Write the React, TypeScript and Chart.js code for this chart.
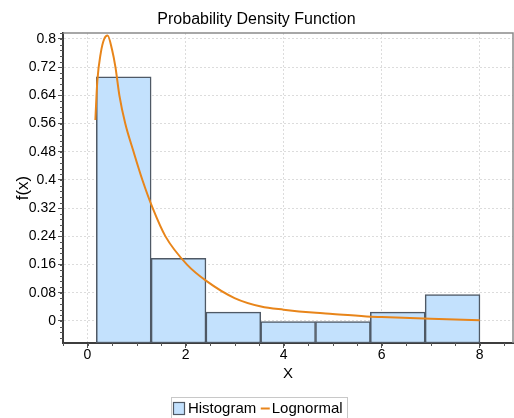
import React, { useEffect, useRef } from "react";
import { Chart, registerables } from "chart.js";

Chart.register(...registerables);

const TITLE = "Probability Density Function";
const X_TITLE = "X";
const Y_TITLE = "f(x)";
const LEGEND_HIST = "Histogram";
const LEGEND_LOGN = "Lognormal";

const BIN_EDGES = [0.18, 1.298, 2.416, 3.534, 4.652, 5.77, 6.888, 8.006];
const HIST_DENSITY = [0.693, 0.178, 0.025, 0, 0, 0.025, 0.075];

const LOGN_X = [0.16, 0.2, 0.27, 0.34, 0.41, 0.5, 0.57, 0.65, 0.77, 0.94, 1.12, 1.33, 1.59, 2.03, 2.43, 3.0, 3.54, 4.0, 4.66, 5.0, 5.78, 6.0, 7.0, 8.0];
const LOGN_Y = [0.57, 0.68, 0.76, 0.8, 0.81, 0.77, 0.72, 0.64, 0.56, 0.48, 0.4, 0.32, 0.24, 0.16, 0.113, 0.065, 0.041, 0.032, 0.023, 0.02, 0.012, 0.011, 0.006, 0.002];

const X_TICKS = [0, 2, 4, 6, 8];
const Y_TICKS = [0, 0.08, 0.16, 0.24, 0.32, 0.4, 0.48, 0.56, 0.64, 0.72, 0.8];
const X_MIN = -0.5;
const X_MAX = 8.68;
const Y_MIN = -0.0625;
const Y_MAX = 0.817;

const FONT = "'Liberation Sans', Arial, sans-serif";
const BAR_FILL = "#c3e1fd";
const BAR_BORDER = "#4f5965";
const LINE_COLOR = "#e8851a";
const TEXT_COLOR = "#000000";

const framePlugin = {
  id: "frameAndMinor",
  afterDraw(chart: any) {
    const { ctx, chartArea } = chart;
    const xs = chart.scales.x;
    const ys = chart.scales.y;
    ctx.save();
    ctx.strokeStyle = "#8a8a8a";
    ctx.lineWidth = 1.5;
    ctx.beginPath();
    ctx.moveTo(chartArea.left, chartArea.top);
    ctx.lineTo(chartArea.right, chartArea.top);
    ctx.lineTo(chartArea.right, chartArea.bottom);
    ctx.stroke();
    ctx.strokeStyle = "#555";
    ctx.lineWidth = 1;
    ctx.beginPath();
    for (let i = -3; i <= 51; i++) {
      const yv = i * 0.016;
      if (yv < Y_MIN || yv > Y_MAX) continue;
      const py = Math.round(ys.getPixelForValue(yv)) + 0.5;
      ctx.moveTo(chartArea.left - 3, py);
      ctx.lineTo(chartArea.left, py);
    }
    for (let i = -1; i <= 17; i++) {
      const v = i * 0.5;
      if (v < X_MIN || v > X_MAX) continue;
      const px = Math.round(xs.getPixelForValue(v)) + 0.5;
      ctx.moveTo(px, chartArea.bottom);
      ctx.lineTo(px, chartArea.bottom + 3);
    }
    ctx.stroke();
    ctx.restore();
  },
};

const legendPlugin = {
  id: "customLegend",
  afterDraw(chart: any) {
    const { ctx, height } = chart;
    ctx.save();
    ctx.font = `15px ${FONT}`;
    const w1 = ctx.measureText(LEGEND_HIST).width;
    const w2 = ctx.measureText(LEGEND_LOGN).width;
    const boxW = 11;
    const lineW = 9;
    const padL = 2;
    const padR = 5;
    const gap1 = 3.4;
    const gap2 = 4.5;
    const gap3 = 2;
    const content = boxW + gap1 + w1 + gap2 + lineW + gap3 + w2;
    const frameW = content + padL + padR;
    const frameCx = 258.7;
    const frameLeft = Math.round(frameCx - frameW / 2) + 0.5;
    const cy = height - 9.5;
    ctx.strokeStyle = "#c8c8c8";
    ctx.lineWidth = 1;
    ctx.strokeRect(frameLeft, cy - 11, Math.round(frameW), 24);
    let x = frameLeft + padL;
    ctx.fillStyle = BAR_FILL;
    ctx.fillRect(x, cy - 6, boxW, 12);
    ctx.strokeStyle = BAR_BORDER;
    ctx.lineWidth = 1.2;
    ctx.strokeRect(x, cy - 6, boxW, 12);
    x += boxW + gap1;
    ctx.fillStyle = TEXT_COLOR;
    ctx.textBaseline = "middle";
    ctx.textAlign = "left";
    ctx.fillText(LEGEND_HIST, x, cy + 0.5);
    x += w1 + gap2;
    ctx.strokeStyle = LINE_COLOR;
    ctx.lineWidth = 2;
    ctx.beginPath();
    ctx.moveTo(x, cy);
    ctx.lineTo(x + lineW, cy);
    ctx.stroke();
    x += lineW + gap3;
    ctx.fillText(LEGEND_LOGN, x, cy + 0.5);
    ctx.restore();
  },
};

export default function App() {
  const ref = useRef<HTMLCanvasElement | null>(null);

  useEffect(() => {
    const canvas = ref.current;
    if (!canvas) return;
    const centers = HIST_DENSITY.map((_, i) => (BIN_EDGES[i] + BIN_EDGES[i + 1]) / 2);
    const chart = new Chart(canvas, {
      type: "bar",
      data: {
        datasets: [
          {
            type: "line",
            label: LEGEND_LOGN,
            data: LOGN_X.map((x, i) => ({ x, y: LOGN_Y[i] })),
            borderColor: LINE_COLOR,
            borderWidth: 2,
            pointRadius: 0,
            cubicInterpolationMode: "monotone",
            fill: false,
            order: 0,
          } as any,
          {
            type: "bar",
            label: LEGEND_HIST,
            data: centers.map((x, i) => ({ x, y: [Y_MIN, HIST_DENSITY[i]] })),
            backgroundColor: BAR_FILL,
            borderColor: BAR_BORDER,
            borderWidth: 1.5,
            borderSkipped: false,
            barPercentage: 1,
            categoryPercentage: 1,
            grouped: false,
            order: 1,
          } as any,
        ],
      },
      options: {
        animation: false,
        responsive: false,
        devicePixelRatio: 1,
        layout: { autoPadding: false, padding: { left: 0, right: 1, top: 0, bottom: 35 } },
        plugins: {
          legend: { display: false },
          tooltip: { enabled: false },
          title: {
            display: true,
            text: TITLE,
            color: TEXT_COLOR,
            font: { family: FONT, size: 16, weight: "normal" },
            padding: { top: 10.4, bottom: 3.4 },
          },
        },
        scales: {
          x: {
            type: "linear",
            min: X_MIN,
            max: X_MAX,
            offset: false,
            afterBuildTicks: (s: any) => {
              s.ticks = X_TICKS.map((v) => ({ value: v }));
            },
            afterFit: (s: any) => {
              s.height = 40;
            },
            ticks: {
              color: TEXT_COLOR,
              font: { family: FONT, size: 14 },
              padding: -1,
              maxRotation: 0,
              autoSkip: false,
            },
            grid: {
              offset: false,
              color: "#dcdcdc",
              tickColor: "#555",
              tickLength: 5,
              tickBorderDash: [],
            },
            border: { display: true, color: "#3d3d3d", width: 2, dash: [2, 2] },
            title: {
              display: true,
              text: X_TITLE,
              color: TEXT_COLOR,
              font: { family: FONT, size: 15 },
              padding: { top: 0, bottom: 0 },
            },
          },
          y: {
            type: "linear",
            min: Y_MIN,
            max: Y_MAX,
            afterBuildTicks: (s: any) => {
              s.ticks = Y_TICKS.map((v) => ({ value: v }));
            },
            afterFit: (s: any) => {
              s.width = 63;
            },
            ticks: {
              color: TEXT_COLOR,
              font: { family: FONT, size: 14 },
              padding: 2,
              autoSkip: false,
              callback: (v: any) => String(Math.round(Number(v) * 100) / 100),
            },
            grid: {
              color: "#dcdcdc",
              tickColor: "#555",
              tickLength: 5,
              tickBorderDash: [],
            },
            border: { display: true, color: "#3d3d3d", width: 2, dash: [2, 2] },
            title: {
              display: true,
              text: Y_TITLE,
              color: TEXT_COLOR,
              font: { family: FONT, size: 17 },
              padding: { top: 13, bottom: 0 },
            },
          },
        },
      } as any,
      plugins: [framePlugin, legendPlugin],
    });
    return () => chart.destroy();
  }, []);

  return (
    <div style={{ position: "fixed", left: 0, top: 0, width: 514, height: 418, background: "#fff" }}>
      <canvas ref={ref} width={514} height={418} style={{ display: "block" }} />
    </div>
  );
}
